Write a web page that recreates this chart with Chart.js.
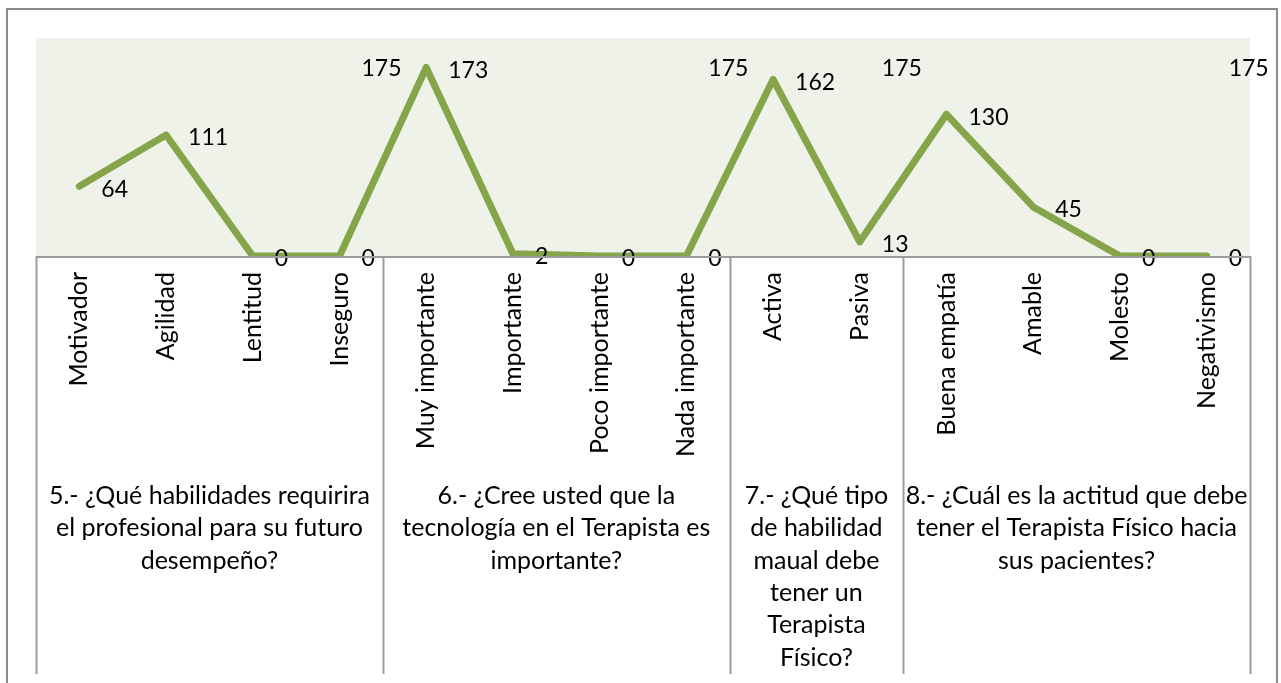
<!DOCTYPE html>
<html>
<head>
<meta charset="utf-8">
<script src="https://cdn.jsdelivr.net/npm/chart.js@4.4.0/dist/chart.umd.min.js"></script>
<style>
  html, body { margin: 0; padding: 0; background: #fff; overflow: hidden; }
</style>
</head>
<body>
<canvas id="chart" width="1281" height="683"></canvas>
<script>
// categorías (respuestas) y valores
const categories = ['Motivador', 'Agilidad', 'Lentitud', 'Inseguro',
  'Muy importante', 'Importante', 'Poco importante', 'Nada importante',
  'Activa', 'Pasiva',
  'Buena empatía', 'Amable', 'Molesto', 'Negativismo'];
const answers = [64, 111, 0, 0, 173, 2, 0, 0, 162, 13, 130, 45, 0, 0];
// total por pregunta (serie sin línea, solo etiqueta)
const totals = [null, null, null, 175, null, null, null, 175, null, 175, null, null, null, 175];

// preguntas (segundo nivel del eje)
const groupSizes = [4, 4, 2, 4];
const groupTitles = [
  ['5.- ¿Qué habilidades requirira', 'el profesional para su futuro', 'desempeño?'],
  ['6.- ¿Cree usted que la', 'tecnología en el Terapista es', 'importante?'],
  ['7.- ¿Qué tipo', 'de habilidad', 'maual debe', 'tener un', 'Terapista', 'Físico?'],
  ['8.- ¿Cuál es la actitud que debe', 'tener el Terapista Físico hacia', 'sus pacientes?']
];
const yMin = 0;
const yMax = 200;

const FONT = 'Lato, "Open Sans", sans-serif';
const lineColor = '#86a44a';
const plotBg = '#eff2e8';
const frameColor = '#9c9c9c';

const decorPlugin = {
  id: 'decor',
  beforeDraw(chart) {
    const ctx = chart.ctx;
    const a = chart.chartArea;
    ctx.save();
    ctx.fillStyle = '#fff';
    ctx.fillRect(0, 0, chart.width, chart.height);
    // marco exterior
    ctx.strokeStyle = '#8c8c8c';
    ctx.lineWidth = 2;
    ctx.strokeRect(7, 9, 1270, 720);
    // fondo del área de trazado
    ctx.fillStyle = plotBg;
    ctx.fillRect(a.left, a.top, a.right - a.left, a.bottom - a.top);
    ctx.restore();
  },
  afterDatasetsDraw(chart) {
    const ctx = chart.ctx;
    ctx.save();
    ctx.font = '23px ' + FONT;
    ctx.fillStyle = '#000';
    ctx.textAlign = 'left';
    ctx.textBaseline = 'middle';
    chart.data.datasets.forEach((ds, di) => {
      const meta = chart.getDatasetMeta(di);
      ds.data.forEach((v, i) => {
        if (v === null) return;
        const p = meta.data[i];
        ctx.fillText(String(v), p.x + 22, p.y + 3);
      });
    });
    ctx.restore();
  },
  afterDraw(chart) {
    const ctx = chart.ctx;
    const a = chart.chartArea;
    const xs = chart.scales.x;
    ctx.save();
    ctx.strokeStyle = frameColor;
    ctx.lineWidth = 2;
    // línea del eje
    ctx.beginPath();
    ctx.moveTo(a.left, a.bottom + 1);
    ctx.lineTo(a.right, a.bottom + 1);
    ctx.stroke();
    // separadores de grupo
    const bounds = [a.left];
    let idx = 0;
    groupSizes.forEach((n, g) => {
      idx += n;
      if (g < groupSizes.length - 1) {
        bounds.push((xs.getPixelForValue(idx - 1) + xs.getPixelForValue(idx)) / 2);
      }
    });
    bounds.push(a.right);
    const bottomY = 674;
    bounds.forEach(x => {
      const xx = Math.round(x) + 0.5;
      ctx.beginPath();
      ctx.moveTo(xx, a.bottom);
      ctx.lineTo(xx, bottomY);
      ctx.stroke();
    });
    // títulos de las preguntas
    ctx.font = '25px ' + FONT;
    ctx.fillStyle = '#000';
    ctx.textAlign = 'center';
    ctx.textBaseline = 'middle';
    groupTitles.forEach((lines, g) => {
      const cx = (bounds[g] + bounds[g + 1]) / 2;
      lines.forEach((t, k) => {
        ctx.fillText(t, cx, 496 + k * 32.3);
      });
    });
    ctx.restore();
  }
};

new Chart(document.getElementById('chart'), {
  type: 'line',
  data: {
    labels: categories,
    datasets: [
      {
        label: 'Respuestas',
        data: answers,
        borderColor: lineColor,
        borderWidth: 7,
        borderCapStyle: 'round',
        borderJoinStyle: 'round',
        pointRadius: 0,
        tension: 0,
        fill: false
      },
      {
        label: 'Total',
        data: totals,
        showLine: false,
        pointRadius: 0,
        borderWidth: 0
      }
    ]
  },
  options: {
    responsive: false,
    animation: false,
    events: [],
    layout: { autoPadding: false, padding: { left: 36, right: 31, top: 38, bottom: 0 } },
    plugins: { legend: { display: false }, tooltip: { enabled: false } },
    scales: {
      x: {
        offset: true,
        grid: { display: false, drawTicks: false },
        border: { display: false },
        ticks: {
          autoSkip: false,
          minRotation: 90,
          maxRotation: 90,
          padding: 16,
          color: '#000',
          font: { family: FONT, size: 25 }
        },
        afterFit(scale) { scale.height = 427; }
      },
      y: {
        display: false,
        min: yMin,
        max: yMax
      }
    }
  },
  plugins: [decorPlugin]
});
</script>
</body>
</html>
